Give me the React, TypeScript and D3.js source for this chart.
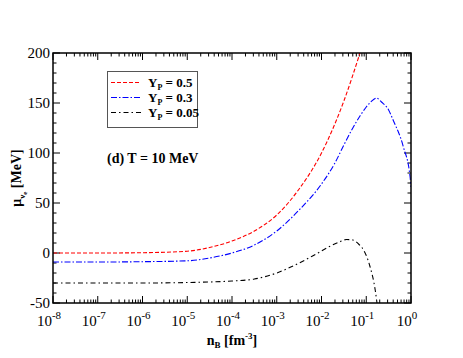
import React, { useEffect, useRef } from "react";
import * as d3 from "d3";

// log10(n_B) and mu values
const redLogN = [-8, -7, -6, -5, -4.5, -4, -3.5, -3, -2.5, -2, -1.5, -1.14];
const redMu = [0, 0, 0.3, 1.8, 5.5, 12, 22, 38, 64, 100, 152, 200];

const blueLogN = [-8, -7, -6, -5, -4.5, -4, -3.5, -3, -2.5, -2, -1.7, -1.5, -1.3, -1.14, -1.0, -0.9, -0.77, -0.66, -0.5, -0.4, -0.17, -0.02, 0];
const blueMu = [-9, -9, -8.7, -7.8, -5, 0, 8, 22, 43, 69, 90, 108, 125, 137, 146, 151, 155, 151, 143, 133, 106, 76, 66];

const blackLogN = [-8, -7, -6, -5, -4, -3.5, -3, -2.5, -2.2, -2, -1.8, -1.6, -1.44, -1.3, -1.15, -1.06, -0.92, -0.8, -0.76];
const blackMu = [-30, -30, -30, -29.5, -28, -26, -20, -10, -3, 2, 7, 11, 13.5, 13, 8, 3, -13, -37, -50];

const xTickExps = [-8, -7, -6, -5, -4, -3, -2, -1, 0];
const yTicks = [-50, 0, 50, 100, 150, 200];

const series = [
  { label: "0.5", logN: redLogN, mu: redMu, color: "#ff0000", dash: "4,2" },
  { label: "0.3", logN: blueLogN, mu: blueMu, color: "#0000ff", dash: "6,2,1.5,2" },
  { label: "0.05", logN: blackLogN, mu: blackMu, color: "#000000", dash: "5,3,1.5,3" },
];

const W = 463;
const H = 358;
const margin = { top: 53, right: 52, bottom: 55, left: 53 };
const font = "Liberation Serif, Times New Roman, Times, serif";

const App = () => {
  const ref = useRef<SVGSVGElement>(null);

  useEffect(() => {
    const svg = d3.select(ref.current);
    svg.selectAll("*").remove();

    const innerW = W - margin.left - margin.right;
    const innerH = H - margin.top - margin.bottom;

    const x = d3.scaleLog().domain([1e-8, 1]).range([0, innerW]);
    const y = d3.scaleLinear().domain([-50, 200]).range([innerH, 0]);

    const g = svg.append("g").attr("transform", `translate(${margin.left},${margin.top})`);

    svg.append("defs").append("clipPath").attr("id", "plot-clip")
      .append("rect").attr("width", innerW).attr("height", innerH);

    // ticks (inside, on all four sides)
    const tickG = g.append("g").attr("stroke", "#000").attr("stroke-width", 1);
    xTickExps.forEach((e) => {
      const px = x(Math.pow(10, e));
      tickG.append("line").attr("x1", px).attr("x2", px).attr("y1", innerH).attr("y2", innerH - 7);
      tickG.append("line").attr("x1", px).attr("x2", px).attr("y1", 0).attr("y2", 7);
      if (e < 0) {
        for (let k = 2; k <= 9; k++) {
          const mx = x(k * Math.pow(10, e));
          tickG.append("line").attr("x1", mx).attr("x2", mx).attr("y1", innerH).attr("y2", innerH - 3.5);
          tickG.append("line").attr("x1", mx).attr("x2", mx).attr("y1", 0).attr("y2", 3.5);
        }
      }
    });
    d3.range(-50, 201, 10).forEach((v) => {
      const len = v % 50 === 0 ? 7 : 3.5;
      const py = y(v);
      tickG.append("line").attr("x1", 0).attr("x2", len).attr("y1", py).attr("y2", py);
      tickG.append("line").attr("x1", innerW).attr("x2", innerW - len).attr("y1", py).attr("y2", py);
    });

    // tick labels
    yTicks.forEach((v) => {
      g.append("text")
        .attr("x", -3).attr("y", y(v) + 5)
        .attr("text-anchor", "end")
        .style("font-family", font).style("font-size", "15px")
        .text(v);
    });
    xTickExps.forEach((e) => {
      const t = g.append("text")
        .attr("x", x(Math.pow(10, e)) - 4).attr("y", innerH + 23)
        .attr("text-anchor", "middle")
        .style("font-family", font).style("font-size", "15px");
      t.append("tspan").text("10");
      t.append("tspan").attr("dy", -7).style("font-size", "11px").text(e);
    });

    // curves
    const lineGen = d3.line<[number, number]>()
      .x((d) => x(Math.pow(10, d[0])))
      .y((d) => y(d[1]))
      .curve(d3.curveMonotoneX);

    const curves = g.append("g").attr("clip-path", "url(#plot-clip)");
    series.forEach((s) => {
      const pts = s.logN.map((v, i) => [v, s.mu[i]] as [number, number]);
      curves.append("path")
        .attr("d", lineGen(pts))
        .attr("fill", "none")
        .attr("stroke", s.color)
        .attr("stroke-width", 1.1)
        .attr("stroke-dasharray", s.dash);
    });

    // frame
    g.append("rect")
      .attr("width", innerW).attr("height", innerH)
      .attr("fill", "none").attr("stroke", "#000").attr("stroke-width", 1.5);

    // legend
    const lg = svg.append("g");
    lg.append("rect")
      .attr("x", 107.5).attr("y", 71.5).attr("width", 90).attr("height", 56)
      .attr("fill", "#fff").attr("stroke", "#555").attr("stroke-width", 1);
    series.forEach((s, i) => {
      const ly = 82.5 + i * 15;
      lg.append("line")
        .attr("x1", 111).attr("x2", 141).attr("y1", ly).attr("y2", ly)
        .attr("stroke", s.color).attr("stroke-width", 1.1)
        .attr("stroke-dasharray", s.dash);
      const t = lg.append("text")
        .attr("x", 148).attr("y", ly + 4)
        .style("font-family", font).style("font-size", "13px").style("font-weight", "bold");
      t.append("tspan").text("Y");
      t.append("tspan").attr("dy", 3).style("font-size", "8px").text("P");
      t.append("tspan").attr("dy", -3).text(` = ${s.label}`);
    });

    // annotation
    svg.append("text")
      .attr("x", 107).attr("y", 163)
      .style("font-family", font).style("font-size", "14px").style("font-weight", "bold")
      .text("(d) T = 10 MeV");

    // x label
    const xl = svg.append("text")
      .attr("x", margin.left + innerW / 2).attr("y", 345)
      .attr("text-anchor", "middle")
      .style("font-family", font).style("font-size", "14px").style("font-weight", "bold");
    xl.append("tspan").text("n");
    xl.append("tspan").attr("dy", 3).style("font-size", "9px").text("B");
    xl.append("tspan").attr("dy", -3).text(" [fm");
    xl.append("tspan").attr("dy", -6).style("font-size", "9px").text("-3");
    xl.append("tspan").attr("dy", 6).text("]");

    // y label
    const yl = svg.append("text")
      .attr("transform", `translate(21,${margin.top + innerH / 2}) rotate(-90)`)
      .attr("text-anchor", "middle")
      .style("font-family", font).style("font-size", "14px").style("font-weight", "bold");
    yl.append("tspan").text("\u03bc");
    yl.append("tspan").attr("dy", 4).style("font-size", "9px").text("\u03bd");
    yl.append("tspan").attr("dy", 2).style("font-size", "7px").text("e");
    yl.append("tspan").attr("dy", -6).text(" [MeV]");
  }, []);

  return (
    <svg
      ref={ref}
      width={W}
      height={H}
      style={{ position: "absolute", left: 0, top: 0, background: "#fff" }}
    />
  );
};

export default App;
